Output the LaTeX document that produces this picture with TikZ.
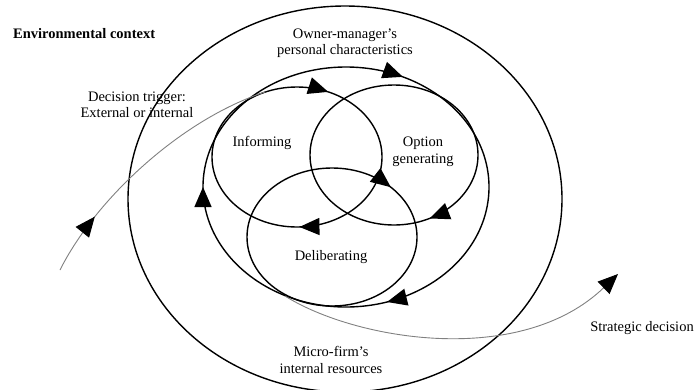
\documentclass[tikz,border=0pt]{standalone}
\usepackage{fontspec}
\setmainfont{Liberation Serif}
\usetikzlibrary{arrows.meta,decorations.markings}
\tikzset{
    tri/.style={postaction={decorate,decoration={markings,mark=at position #1 with {\arrow{Triangle[length=20pt,width=17pt,color=black]}}}}},
    ring/.style={line width=1.4pt},
    flow/.style={line width=0.9pt, gray},
    lbl/.style={font=\fontsize{14.5}{16.5}\selectfont, align=center, inner sep=0pt},
}
\begin{document}
\begin{tikzpicture}[x=1pt,y=-1pt]
    \useasboundingbox (0,0) rectangle (698,389);
    %Centre
        \coordinate (env) at (345,199);
        \coordinate (own) at (346,187);
        \coordinate (inf) at (297,157);
        \coordinate (opt) at (394,155);
        \coordinate (del) at (332,237);

    %Ellipser
        \draw[ring] (env) ellipse [x radius=217, y radius=193];
        \draw[ring, tri=0.2, tri=0.5, tri=0.82] (own) ellipse [x radius=143, y radius=120];
        \draw[ring, tri=0.245, tri=0.815] (inf) ellipse [x radius=85, y radius=70];
        \draw[ring, tri=0.175] (opt) ellipse [x radius=84, y radius=70];
        \draw[ring, tri=0.88] (del) ellipse [x radius=85, y radius=69];

    %Pile
        \coordinate (trig) at (60,270);
        \coordinate (join) at (265,92);
        \draw[flow, tri=0.23] (trig) .. controls (95,200) and (180,120) .. (join);
        \coordinate (leave) at (285,296);
        \coordinate (strat) at (618,274);
        \draw[flow, -{Triangle[length=20pt,width=17pt,color=black]}] (leave) .. controls (355,340) and (520,368) .. (strat);

    %Tekst
        \node[lbl, anchor=west, font=\fontsize{14.5}{16.5}\selectfont\bfseries] (envtxt) at (13,34) {Environmental context};
        \node[lbl] (owntxt) at (345,43) {Owner-manager's\\personal characteristics};
        \node[lbl] (trigtxt) at (137,105) {Decision trigger:\\External or internal};
        \node[lbl] (inftxt) at (262,143) {Informing};
        \node[lbl] (opttxt) at (423,152) {Option\\generating};
        \node[lbl] (deltxt) at (331,257) {Deliberating};
        \node[lbl] (restxt) at (331,360) {Micro-firm's\\internal resources};
        \node[lbl] (strattxt) at (642,328) {Strategic decision};
\end{tikzpicture}
\end{document}
